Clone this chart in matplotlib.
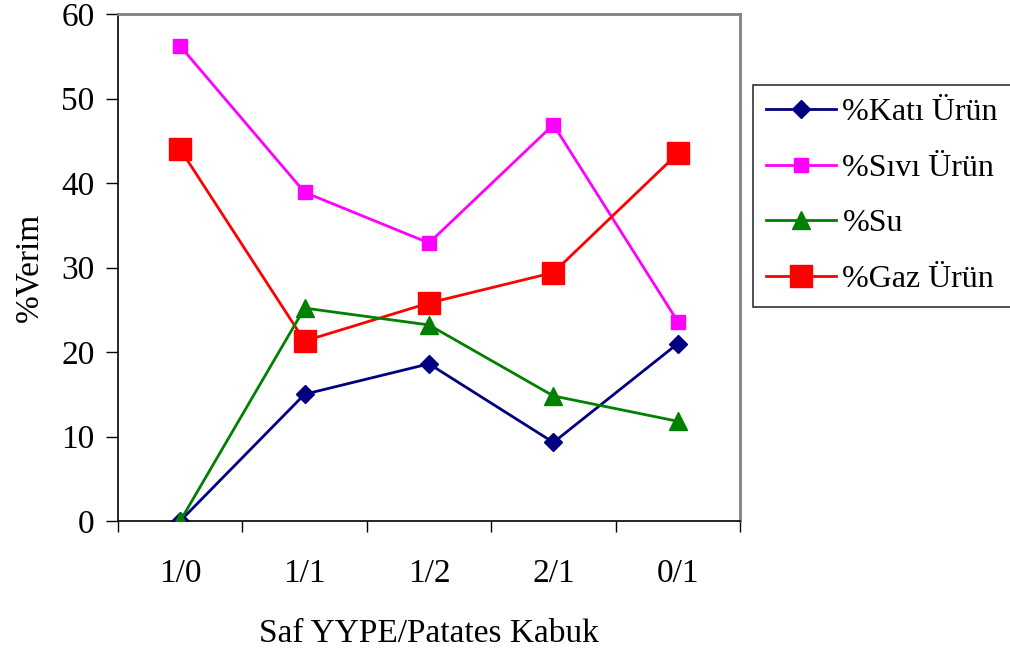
import matplotlib
matplotlib.use("Agg")
import matplotlib.pyplot as plt
from matplotlib.ticker import FixedLocator, NullFormatter

plt.rcParams.update({
    "font.family": ["Liberation Serif", "DejaVu Serif"],
    "font.size": 24,
})

# blend ratios (pure LDPE / potato peel)
ratios = ["1/0", "1/1", "1/2", "2/1", "0/1"]

kati = [0.0, 15.0, 18.6, 9.3, 21.0]
sivi = [56.2, 38.9, 32.9, 46.9, 23.6]
su = [0.0, 25.2, 23.2, 14.8, 11.8]
gaz = [44.0, 21.3, 25.8, 29.4, 43.5]

series_labels = ["%Katı Ürün", "%Sıvı Ürün", "%Su", "%Gaz Ürün"]

fig = plt.figure(figsize=(10.1, 6.51), dpi=100)
ax = fig.add_axes([118 / 1010, 1 - 521 / 651, (740 - 118) / 1010, (521 - 14) / 651])

x = list(range(len(ratios)))
ax.plot(x, kati, color="#000080", lw=2, marker="D", ms=9.5, label=series_labels[0], zorder=4)
ax.plot(x, sivi, color="#FF00FF", lw=2, marker="s", ms=10.5, label=series_labels[1], zorder=3)
ax.plot(x, su, color="#008000", lw=2, marker="^", ms=13.5, label=series_labels[2], zorder=5)
ax.plot(x, gaz, color="#FF0000", lw=2, marker="s", ms=16, label=series_labels[3], zorder=3)

ax.set_xlim(-0.5, len(ratios) - 0.5)
ax.set_ylim(0, 60)
ax.set_yticks(range(0, 61, 10))

# category labels centred, tick marks on the boundaries
ax.set_xticks(x)
ax.set_xticklabels(ratios)
ax.xaxis.set_minor_locator(FixedLocator([i - 0.5 for i in range(len(ratios) + 1)]))
ax.xaxis.set_minor_formatter(NullFormatter())
ax.tick_params(axis="x", which="major", length=0, pad=27)
ax.tick_params(axis="x", which="minor", length=8, width=1, direction="out", color="black")
ax.tick_params(axis="y", length=9, width=1, direction="out", pad=8)

for side in ("top", "right"):
    ax.spines[side].set_color("#808080")
    ax.spines[side].set_linewidth(2)
for side in ("left", "bottom"):
    ax.spines[side].set_color("black")
    ax.spines[side].set_linewidth(1.2)

ax.set_xlabel("Saf YYPE/Patates Kabuk", labelpad=21)
ax.set_ylabel("%Verim", labelpad=12)

leg = fig.legend(
    loc="upper left",
    bbox_to_anchor=(753 / 1010, 1 - 85 / 651),
    frameon=True,
    fancybox=False,
    edgecolor="black",
    fontsize=23,
    handlelength=2.2,
    handletextpad=0.2,
    labelspacing=0.82,
    borderpad=0.4,
    borderaxespad=0,
)
leg.get_frame().set_linewidth(1.2)

fig.savefig("out.png", dpi=100)
